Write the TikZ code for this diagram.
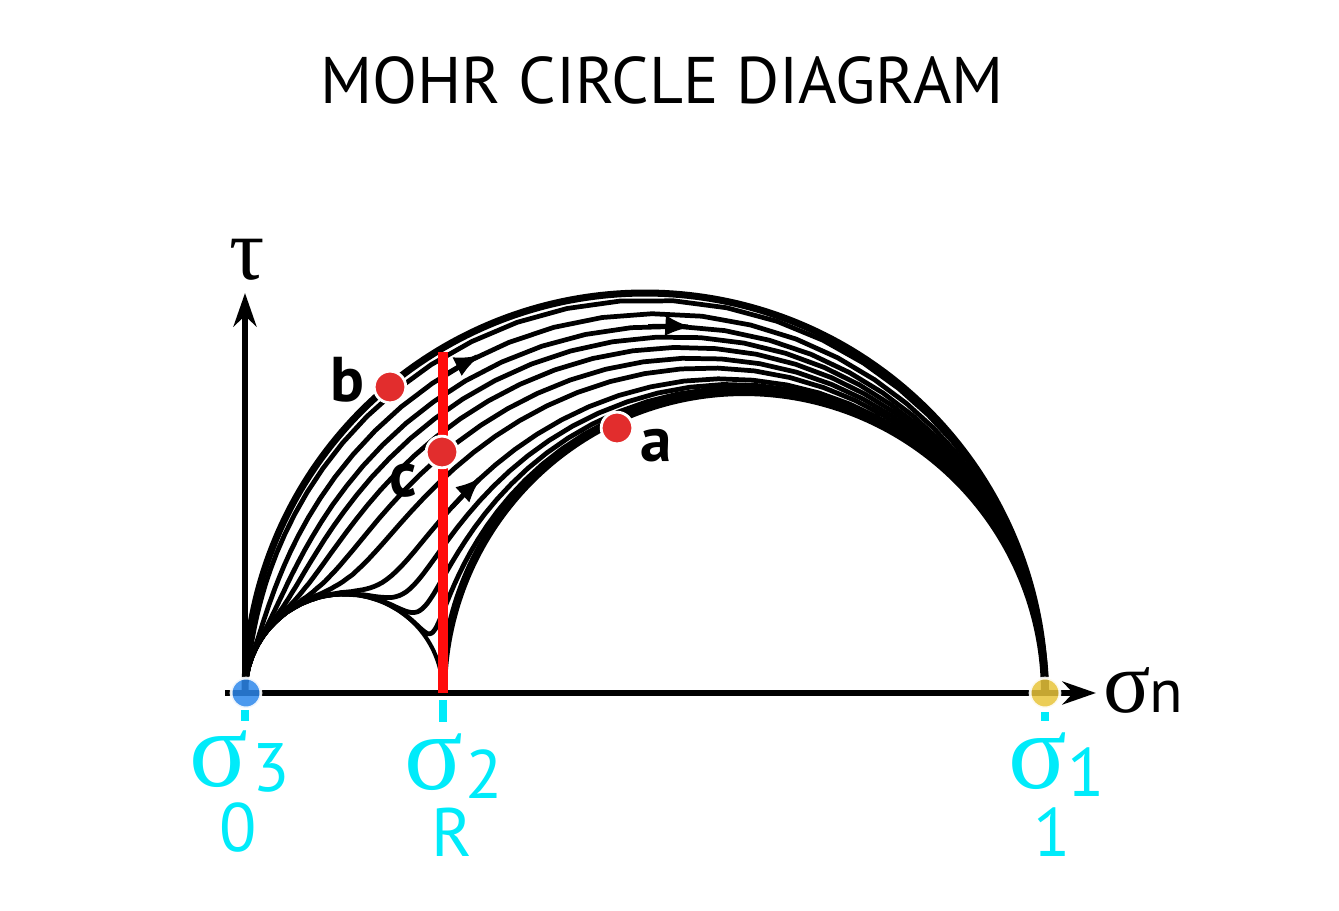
\documentclass[tikz,border=0pt]{standalone}
\usepackage{fontspec}
\setmainfont{PT Sans}
\newfontfamily\grk{Liberation Serif}
\usetikzlibrary{arrows.meta}
\definecolor{cyanl}{RGB}{0,235,250}
\definecolor{dotred}{RGB}{226,45,45}
\definecolor{lred}{RGB}{255,12,12}
\definecolor{dotblue}{RGB}{45,135,235}
\definecolor{dotyellow}{RGB}{232,196,58}
\begin{document}
\begin{tikzpicture}[x=0.02cm,y=-0.02cm,
  declare function={
    EE(\p)=exp(max(\p,-11));
    wa(\p)=EE(min(\p,0));
    wc(\p)=EE(-max(\p,0));
    wb(\p,\k)=\k*EE(0.2475*\p-max(\p,0));
    Sm(\p,\k)=wa(\p)+wb(\p,\k)+wc(\p);
    sgx(\p,\k)=(wa(\p)+0.2475*wb(\p,\k))/Sm(\p,\k);
    tax(\p,\k)=sqrt(max(0,(wa(\p)+0.06126*wb(\p,\k))/Sm(\p,\k)-sgx(\p,\k)^2));
  },
  axisline/.style={line width=3.9pt,-{Stealth[length=19pt,width=13pt,inset=6pt]}},
  flow/.style={line width=2.7pt,line join=round},
  bound/.style={line width=4pt,line join=round},
  flowarrow/.style={line width=2.7pt,-{Latex[length=15pt,width=12pt]}},
  dotn/.style={circle,minimum size=18pt,inner sep=0pt,draw=white,line width=1.6pt},
  lab/.style={font=\fontsize{36}{40}\selectfont\bfseries,inner sep=0pt},
  grklab/.style={font=\grk\fontsize{62}{64}\selectfont,inner sep=0pt,text=cyanl},
  numlab/.style={font=\fontsize{39}{42}\selectfont,inner sep=0pt,text=cyanl},
  tick/.style={cyanl,line width=4.5pt}
]
\useasboundingbox (0,0) rectangle (1339,911);

% title
\node[font=\fontsize{37.5}{40}\selectfont,inner sep=0pt] (title) at (662,80) {MOHR CIRCLE DIAGRAM};

% axes
\coordinate (O) at (225,693);
\coordinate (Oy) at (245,693);
\coordinate (S1) at (1045,693);
\coordinate (xend) at (1096,693);
\coordinate (yend) at (245,293);
\draw[axisline] (O) -- (xend);
\draw[axisline] (Oy) -- (yend);
\node[font=\grk\fontsize{50}{52}\selectfont,inner sep=0pt] (tau) at (247,260) {τ};
\node[font=\grk\fontsize{50}{52}\selectfont,inner sep=0pt] (sn) at (1127,690) {σ};
\node[font=\fontsize{35}{38}\selectfont,inner sep=0pt] (snn) at (1166,697) {n};

% cyan ticks
\coordinate (t3a) at (245,710); \coordinate (t3b) at (245,721);
\coordinate (t2a) at (443,700); \coordinate (t2b) at (443,722);
\coordinate (t1a) at (1045,712); \coordinate (t1b) at (1045,721);
\draw[tick] (t3a) -- (t3b);
\draw[tick] (t2a) -- (t2b);
\draw[tick] (t1a) -- (t1b);

% small circle sigma3-sigma2
\draw[line width=2.3pt] plot[domain=0:180,samples=80,variable=\a]
  ({245+99*(1-cos(\a))},{693-99*sin(\a)});

% flow lines from sigma3 to sigma1
\foreach \q in {0.1,0.33,0.6,0.9,1.3,1.9,2.8,5,8,14,30}{
  \draw[flow] (Oy) -- plot[domain=-42:22,samples=230,variable=\v]
    ({245+800*sgx(\v,\q)},{693-800*tax(\v,\q)}) -- (S1);
}
% outer circle sigma3-sigma1 and inner circle sigma2-sigma1
\draw[bound] plot[domain=0:180,samples=160,variable=\a]
  ({645-400*cos(\a)},{693-400*sin(\a)});
\draw[bound,line width=4.6pt] plot[domain=0:180,samples=160,variable=\a]
  ({744-301*cos(\a)},{693-301*sin(\a)});

% arrowheads on flow lines
\draw[flowarrow] plot[domain=-1.1:-0.83,samples=12,variable=\v]
  ({245+800*sgx(\v,0.33)},{693-800*tax(\v,0.33)});
\draw[flowarrow] plot[domain=-0.9:-0.3,samples=14,variable=\v]
  ({245+800*sgx(\v,5)},{693-800*tax(\v,5)});
\draw[flowarrow] plot[domain=0.3:0.56,samples=12,variable=\v]
  ({245+800*sgx(\v,0.6)},{693-800*tax(\v,0.6)});

% red line at sigma2
\coordinate (rb) at (443,693);
\coordinate (rt) at (443,352);
\draw[lred,line width=6pt] (rb) -- (rt);

% dots
\node[dotn,fill=dotred] (b) at (390,387) {};
\node[dotn,fill=dotred] (c) at (442,452) {};
\node[dotn,fill=dotred] (a) at (617,428) {};
\node[dotn,fill=dotblue,fill opacity=0.85,draw opacity=0.9,minimum size=17pt] (s3) at (246,693) {};
\node[dotn,fill=dotyellow,fill opacity=0.85,draw opacity=0.9,minimum size=17pt] (s1) at (1045,693) {};

% point labels
\node[lab] (lb) at (347,380) {b};
\node[lab] (lc) at (403,481) {c};
\node[lab] (la) at (656,446) {a};

% principal stress labels
\node[grklab] (g3) at (219,759) {σ};
\node[numlab] (n3) at (271,768) {3};
\node[numlab] (z3) at (238,828) {0};
\node[grklab] (g2) at (434,762) {σ};
\node[numlab] (n2) at (484,774) {2};
\node[numlab] (z2) at (452,832) {R};
\node[grklab] (g1) at (1038,761) {σ};
\node[numlab] (n1) at (1086,772) {1};
\node[numlab] (z1) at (1052,832) {1};
\end{tikzpicture}
\end{document}
